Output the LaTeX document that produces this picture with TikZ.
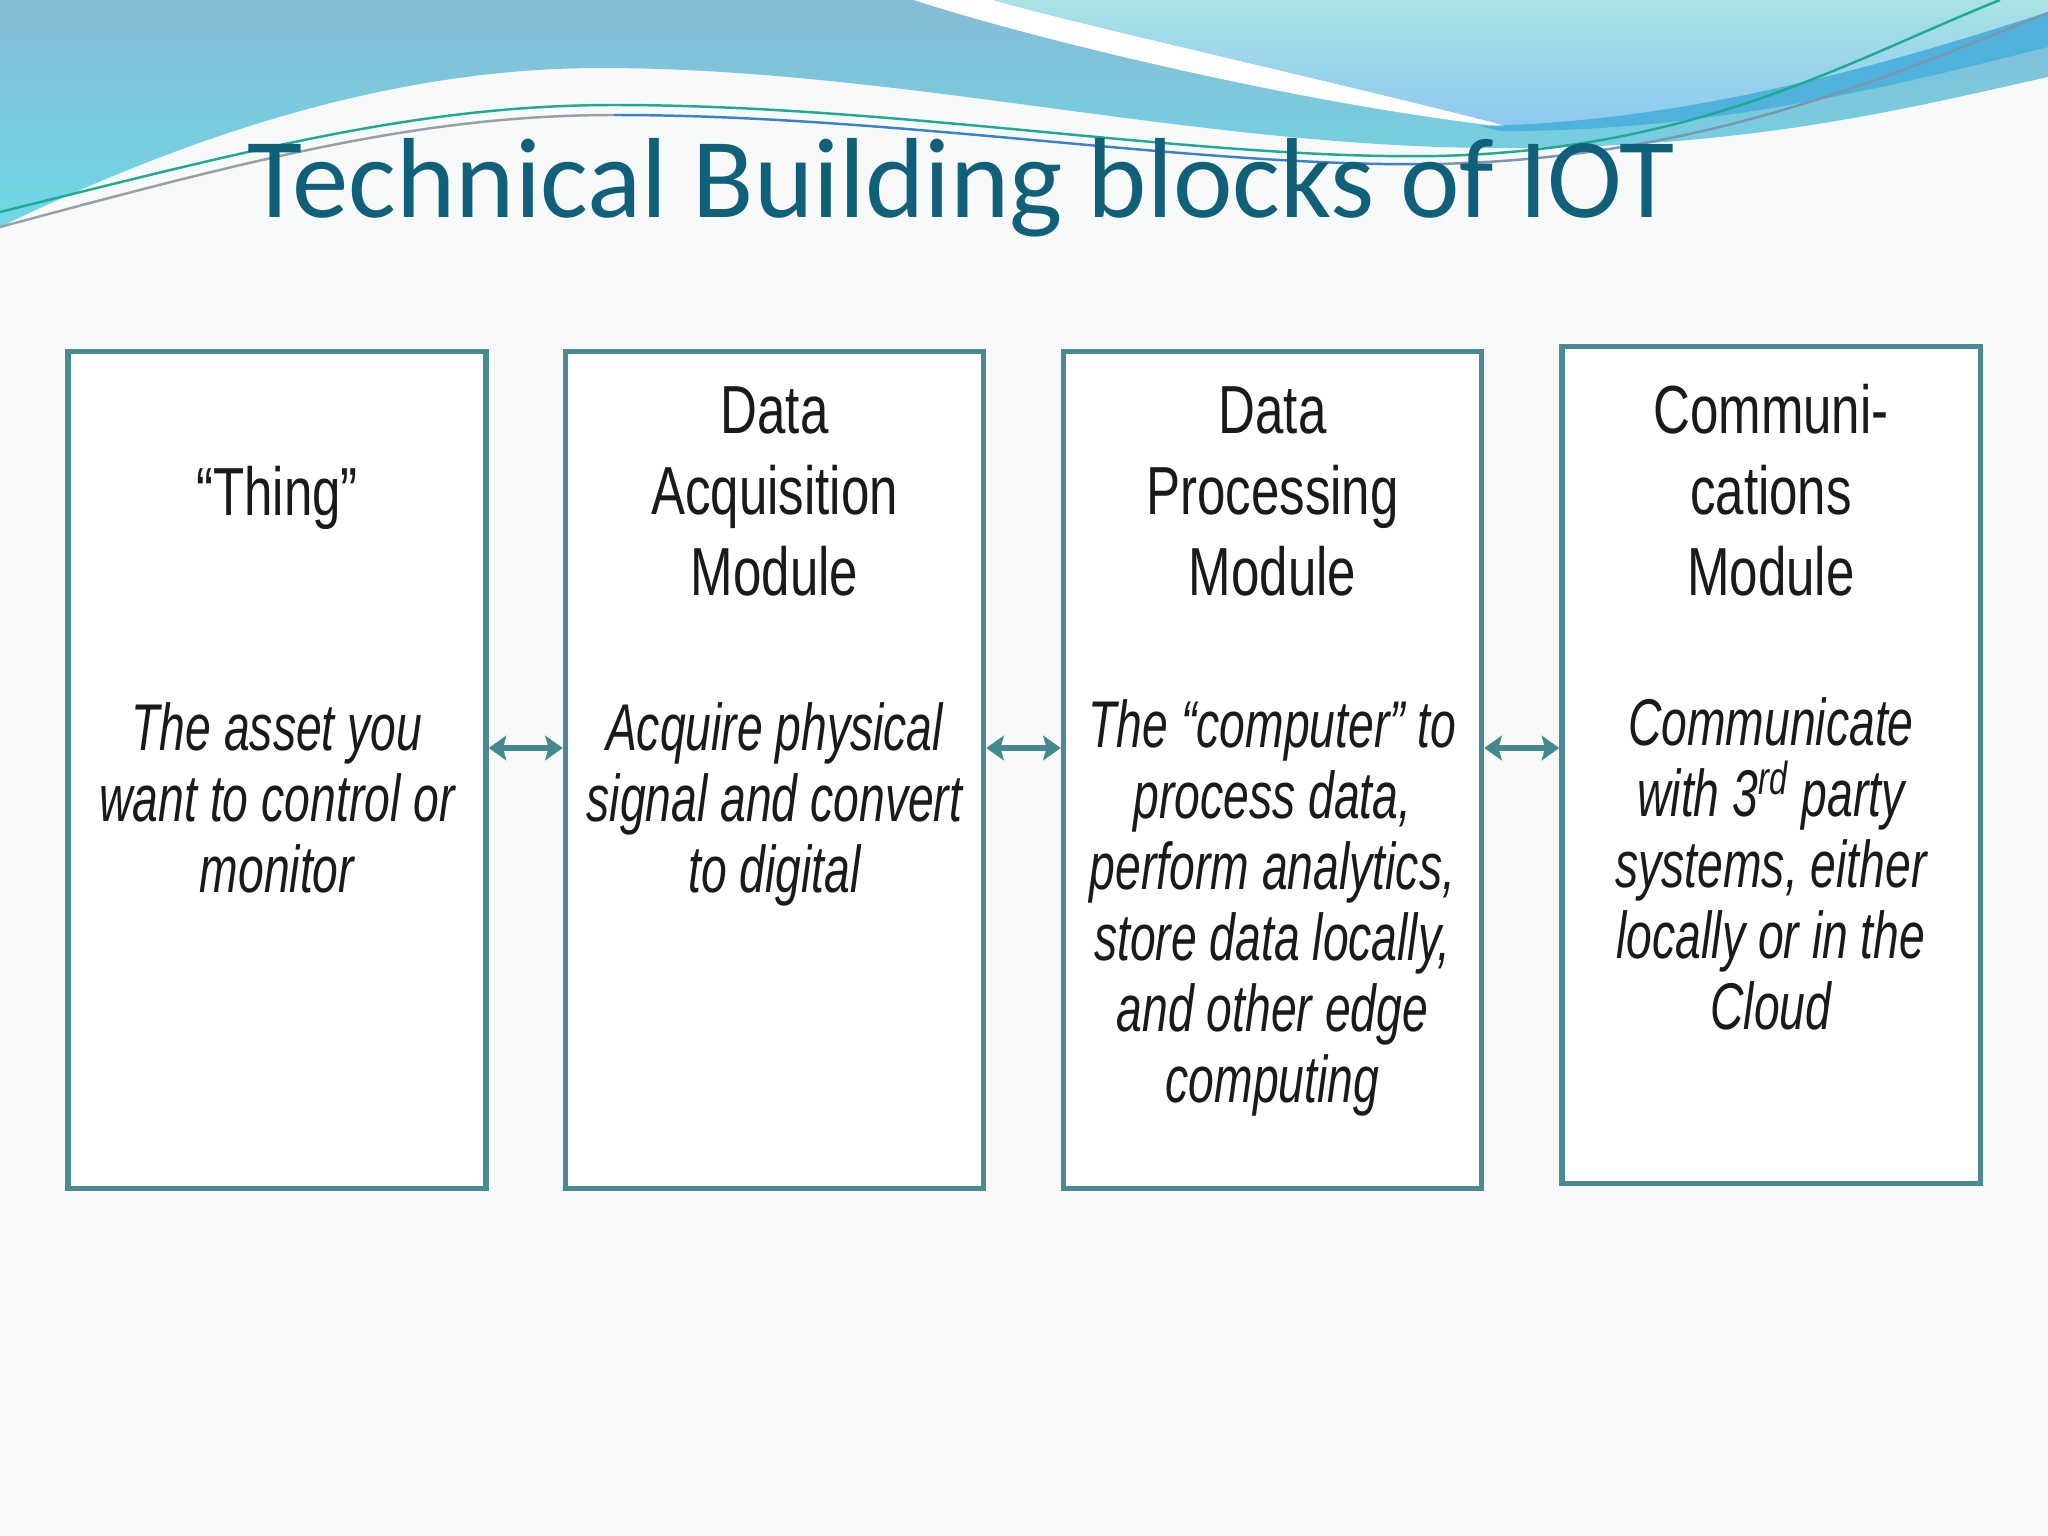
\documentclass[tikz,border=0pt]{standalone}
\usepackage{fontspec}
\usetikzlibrary{arrows.meta,calc}
\newfontfamily\headfont[FakeStretch=0.75]{Liberation Sans}
\newfontfamily\bodyfont[FakeStretch=0.70]{Liberation Sans}
\newfontfamily\titlefont[FakeStretch=0.99]{Carlito}
\definecolor{titleteal}{RGB}{16,96,122}
\definecolor{bgc}{RGB}{248,249,249}
\definecolor{regAtop}{RGB}{134,188,214}
\definecolor{regAbot}{RGB}{110,216,230}
\definecolor{regCtop}{RGB}{170,226,230}
\definecolor{regCbot}{RGB}{140,200,238}
\definecolor{ribbonc}{RGB}{78,178,220}
\definecolor{boxedge}{RGB}{76,138,145}
\definecolor{arrowc}{RGB}{66,136,142}
\definecolor{inkc}{RGB}{26,26,26}
\definecolor{lineteal}{RGB}{30,170,150}
\definecolor{lineblue}{RGB}{60,130,200}
\definecolor{linegrey}{RGB}{150,160,165}
\tikzset{
  blk/.style={draw=boxedge, line width=1.5pt, fill=white, rectangle,
    minimum width=4.18cm, minimum height=8.36cm, inner sep=0pt},
  headtxt/.style={anchor=north, inner sep=0pt, align=center, text=inkc,
    font=\headfont\fontsize{19.35pt}{23.05pt}\selectfont},
  bodytxt/.style={anchor=north, inner sep=0pt, align=center, text=inkc,
    font=\bodyfont\itshape\fontsize{18.8pt}{20.2pt}\selectfont},
  biarrow/.style={arrowc, line width=1.9pt,
    {Stealth[length=5pt,width=7pt,inset=1pt]}-{Stealth[length=5pt,width=7pt,inset=1pt]}},
  thinline/.style={line width=0.7pt}
}
\begin{document}
\begin{tikzpicture}[x=0.01cm,y=-0.01cm]
\useasboundingbox (0,0) rectangle (2048,1536);
\fill[bgc] (0,0) rectangle (2048,1536);
% top decoration
\shade[top color=regAtop, bottom color=regAbot] (0,0) -- (2048,0) -- (2048,77)
  .. controls (1900,110) and (1750,148) .. (1500,148)
  .. controls (1200,148) and (900,68) .. (600,68)
  .. controls (400,68) and (200,130) .. (0,227) -- cycle;
\fill[white] (914,0) .. controls (1020,35) and (1300,105) .. (1515,128)
  .. controls (1350,85) and (1080,25) .. (993,0) -- cycle;
\shade[top color=regCtop, bottom color=regCbot] (993,0)
  .. controls (1080,25) and (1350,85) .. (1515,128)
  .. controls (1700,132) and (1880,90) .. (2048,45) -- (2048,0) -- cycle;
\fill[ribbonc] (1480,126) .. controls (1680,122) and (1870,70) .. (2048,12)
  -- (2048,47) .. controls (1880,90) and (1700,132) .. (1500,131) -- cycle;
\draw[thinline, lineteal] (0,212) .. controls (250,150) and (420,105) .. (614,105)
  .. controls (900,105) and (1200,160) .. (1437,156)
  .. controls (1700,150) and (1850,60) .. (2000,0);
\draw[thinline, linegrey] (0,227) .. controls (250,160) and (420,115) .. (614,115);
\draw[thinline, lineblue] (614,115) .. controls (900,115) and (1200,168) .. (1437,164);
\draw[thinline, linegrey!70!lineblue] (1437,164) .. controls (1700,158) and (1880,80) .. (2048,13);
% title
\node[anchor=base west, inner sep=0pt, text=titleteal,
  font=\titlefont\fontsize{32.4pt}{38pt}\selectfont] (title) at (247,217)
  {Technical Building blocks of IOT};
% boxes
\node[blk] (b1) at (277,770) {};
\node[blk] (b2) at (774.5,770) {};
\node[blk] (b3) at (1272.5,770) {};
\node[blk] (b4) at (1771,765) {};
% headings
\node[headtxt] (h1) at (277,465) {“Thing”};
\node[headtxt] (h2) at (774.5,386) {Data\\Acquisition\\Module};
\node[headtxt] (h3) at (1272.5,386) {Data\\Processing\\Module};
\node[headtxt] (h4) at (1771,383) {Communi-\\cations\\Module};
% bodies
\node[bodytxt] (t1) at (277,702) {The asset you\\want to control or\\monitor};
\node[bodytxt] (t2) at (774.5,702) {Acquire physical\\signal and convert\\to digital};
\node[bodytxt] (t3) at (1272.5,699) {The “computer” to\\process data,\\perform analytics,\\store data locally,\\and other edge\\computing};
\node[bodytxt] (t4) at (1771,697) {Communicate\\with 3\textsuperscript{rd} party\\systems, either\\locally or in the\\Cloud};
% arrows
\coordinate (ay) at (0,748);
\draw[biarrow] (b1.east |- ay) -- (b2.west |- ay);
\draw[biarrow] (b2.east |- ay) -- (b3.west |- ay);
\draw[biarrow] (b3.east |- ay) -- (b4.west |- ay);
\end{tikzpicture}
\end{document}
